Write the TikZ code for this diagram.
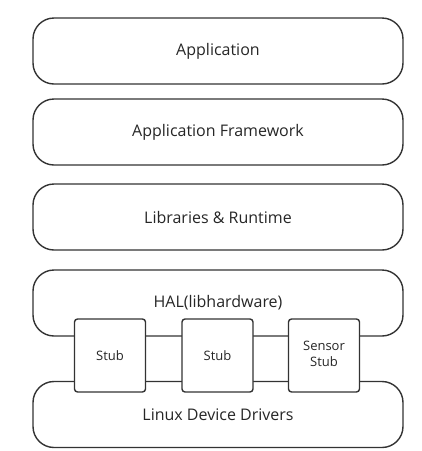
\documentclass[tikz,border=0pt]{standalone}
\usepackage{fontspec}
\setmainfont{Open Sans}
\begin{document}
\begin{tikzpicture}[x=1pt,y=-1pt,
  layer/.style={draw=black!80,line width=1.4pt,rounded corners=21pt,minimum width=370pt,minimum height=66pt,inner sep=0pt,font=\fontsize{16}{19}\selectfont,text=black!85},
  stubbox/.style={draw=black!80,line width=1.4pt,rounded corners=3pt,fill=white,minimum width=71pt,minimum height=73pt,inner sep=0pt,align=center,font=\fontsize{13}{16}\selectfont,text=black!85}]
\useasboundingbox (0,0) rectangle (422,451);
\node[layer] (app) at (218,51) {\raisebox{-2pt}{Application}};
\node[layer] (fw) at (218,132) {\raisebox{-2pt}{Application Framework}};
\node[layer] (lib) at (218,217) {\raisebox{-2pt}{Libraries \& Runtime}};
\node[layer] (hal) at (218,303) {\raisebox{-1.5pt}{HAL(libhardware)}};
\node[layer] (lin) at (218,414.5) {\raisebox{-1.5pt}{Linux Device Drivers}};
\node[stubbox] (s1) at (110,355.5) {\raisebox{-2pt}{Stub}};
\node[stubbox] (s2) at (217.5,355.5) {\raisebox{-2pt}{Stub}};
\node[stubbox] (s3) at (324,355.5) {\raisebox{-4pt}{\begin{tabular}{@{}c@{}}Sensor\\Stub\end{tabular}}};
\end{tikzpicture}
\end{document}
